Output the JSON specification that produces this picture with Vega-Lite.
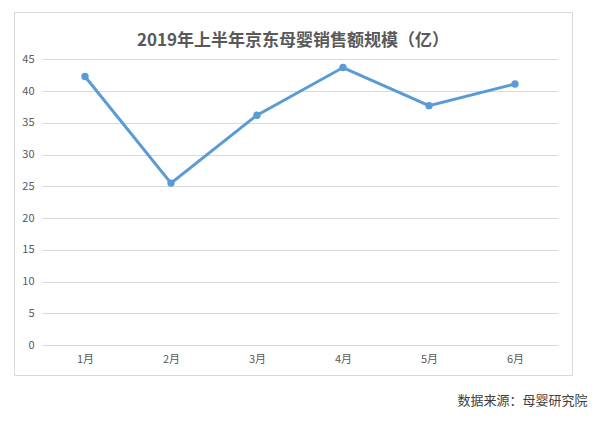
{
  "$schema": "https://vega.github.io/schema/vega-lite/v6.json",
  "autosize": "none",
  "width": 558, "height": 363,
  "padding": {"left": 14, "top": 12, "right": 28, "bottom": 47},
  "background": "#ffffff",
  "config": {
    "view": {"stroke": "#d9d9d9", "strokeWidth": 1},
    "font": "Noto Sans CJK SC",
    "axis": {"labelColor": "#595959", "labelFontSize": 11, "gridColor": "#d9d9d9", "domain": false, "ticks": false}
  },
  "title": {
    "text": "2019年上半年京东母婴销售额规模（亿）",
    "fontSize": 17, "fontWeight": "bold", "color": "#595959",
    "anchor": "middle", "offset": -38
  },
  "data": {
    "values": [
      {"month": "1月", "sales": 42.3},
      {"month": "2月", "sales": 25.5},
      {"month": "3月", "sales": 36.2},
      {"month": "4月", "sales": 43.7},
      {"month": "5月", "sales": 37.7},
      {"month": "6月", "sales": 41.1}
    ]
  },
  "mark": {"type": "line", "color": "#5b9bd5", "strokeWidth": 3,
    "point": {"filled": true, "size": 55, "color": "#5b9bd5"}},
  "encoding": {
    "x": {
      "field": "month", "type": "ordinal", "sort": null,
      "scale": {"type": "point", "range": [28, 544], "padding": 0.5},
      "axis": {"title": "数据来源：母婴研究院", "offset": -30, "labelAngle": 0, "labelPadding": 8, "grid": false,
        "titleX": 573, "titleY": 55, "titleAlign": "right", "titleBaseline": "middle",
        "titleFontSize": 13, "titleFontWeight": "normal", "titleColor": "#404040"}
    },
    "y": {
      "field": "sales", "type": "quantitative",
      "scale": {"domain": [0, 45], "range": [333, 47.3], "nice": false},
      "axis": {"title": null, "offset": -28, "values": [0, 5, 10, 15, 20, 25, 30, 35, 40, 45], "labelPadding": 8}
    }
  }
}
